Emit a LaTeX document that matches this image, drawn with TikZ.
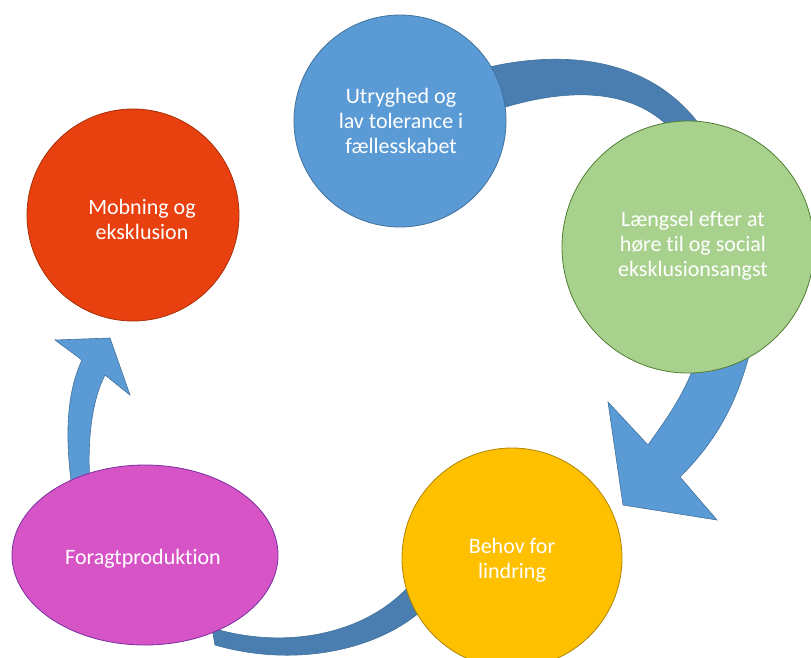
\documentclass[tikz,border=0pt]{standalone}
\usepackage{fontspec}
\setmainfont{Carlito}[Ligatures={NoCommon}]
\usetikzlibrary{shapes.geometric}
\definecolor{cblue}{HTML}{5B9BD5}
\definecolor{cblueline}{HTML}{41719C}
\definecolor{cband}{HTML}{4A7EB1}
\definecolor{cgreen}{HTML}{A9D18E}
\definecolor{cgreenline}{HTML}{507E32}
\definecolor{cred}{HTML}{E8410F}
\definecolor{credline}{HTML}{A83008}
\definecolor{cmag}{HTML}{D654C6}
\definecolor{cmagline}{HTML}{7A2FA0}
\definecolor{corange}{HTML}{FFC000}
\definecolor{corangeline}{HTML}{B08400}
\tikzset{
  bubble/.style={circle, draw, line width=0.8pt, inner sep=0pt, text=white, align=center,
    font=\fontsize{22}{25}\selectfont},
  lbl/.style={text=white, align=center, font=\fontsize{22}{25}\selectfont, inner sep=0pt},
  bandarrow/.style={fill=cband, draw=cblueline, line width=0.6pt},
  headarrow/.style={fill=cblue, draw=cblueline, line width=0.6pt},
}
\begin{document}
\begin{tikzpicture}[x=1pt,y=-1pt]
\useasboundingbox (0,0) rectangle (811,657);
\fill[white] (0,0) rectangle (811,657);

% connectors (drawn under the bubbles)
\path[bandarrow] (485,68) .. controls (560,50) and (650,55) .. (702,128)
  -- (672,130) .. controls (630,85) and (560,88) .. (490,112) -- cycle;
\path[headarrow] (750,352) .. controls (735,410) and (712,445) .. (680,477)
  -- (717,520) -- (623,505) -- (608,402) -- (648,445)
  .. controls (662,425) and (685,395) .. (696,360) -- cycle;
\path[bandarrow] (410,585) .. controls (365,635) and (285,650) .. (212,628)
  -- (215,645) .. controls (295,668) and (375,650) .. (420,612) -- cycle;
\path[headarrow] (72,488) .. controls (64,430) and (68,390) .. (82,360)
  -- (55,340) -- (110,338) -- (130,395) -- (105,375)
  .. controls (92,400) and (87,440) .. (90,484) -- cycle;

% bubbles
\node[bubble, fill=cblue, draw=cblueline, minimum size=212pt] (utr) at (400,121) {};
\node[bubble, fill=cgreen, draw=cgreenline, minimum size=252pt] (lae) at (688,247) {};
\node[bubble, fill=cred, draw=credline, minimum size=212pt] (mob) at (133,215) {};
\node[ellipse, draw=cmagline, fill=cmag, line width=0.8pt, minimum width=266pt, minimum height=180pt, inner sep=0pt] (for) at (145,555) {};
\node[bubble, fill=corange, draw=corangeline, minimum size=220pt] (beh) at (512,558) {};

% labels
\node[lbl] (tutr) at (401,121) {Utryghed og\\lav tolerance i\\fællesskabet};
\node[lbl] (tlae) at (693,246) {Længsel efter at\\høre til og social\\eksklusionsangst};
\node[lbl] (tmob) at (142,219) {Mobning og\\eksklusion};
\node[lbl] (tfor) at (143,559) {Foragtproduktion};
\node[lbl] (tbeh) at (512,560) {Behov for\\lindring};
\end{tikzpicture}
\end{document}
